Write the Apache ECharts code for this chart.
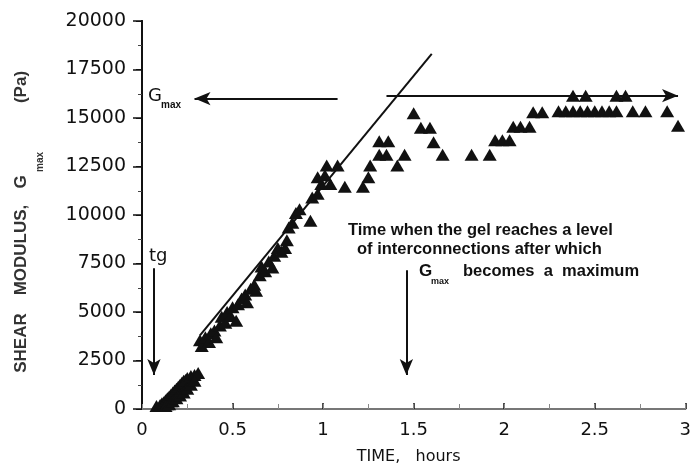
<!DOCTYPE html>
<html>
<head>
<meta charset="utf-8">
<script src="https://cdn.jsdelivr.net/npm/echarts@6/dist/echarts.min.js"></script>
<style>
  html, body { margin: 0; padding: 0; background: #fff; }
  #chart { width: 694px; height: 470px; }
</style>
</head>
<body>
<div id="chart"></div>
<script>
// Shear modulus G (Pa) versus curing time (hours)

// Gel onset region, just after tg
const onsetPoints = [
  [0.08, 150], [0.10, 200], [0.11, 300], [0.12, 150], [0.12, 350], [0.13, 450],
  [0.14, 250], [0.14, 550], [0.15, 650], [0.16, 400], [0.16, 750], [0.17, 850],
  [0.18, 600], [0.18, 950], [0.19, 1050], [0.20, 800], [0.20, 1150], [0.21, 1250],
  [0.22, 1000], [0.22, 1350], [0.23, 1450], [0.24, 1150], [0.24, 1500],
  [0.25, 1600], [0.26, 1300], [0.27, 1700], [0.29, 1750], [0.31, 1850],
  [0.13, 150], [0.15, 250], [0.17, 400], [0.19, 550], [0.21, 700],
  [0.23, 850], [0.25, 1050], [0.27, 1250], [0.29, 1450]
];

// Linear growth of the network
const growthPoints = [
  [0.32, 3550], [0.33, 3250], [0.35, 3700], [0.37, 3450], [0.38, 3900],
  [0.40, 4050], [0.41, 3700], [0.43, 4300], [0.44, 4750], [0.46, 4450],
  [0.47, 5000], [0.49, 4800], [0.50, 5250], [0.52, 4550], [0.53, 5400],
  [0.55, 5700], [0.57, 5900], [0.58, 5500], [0.60, 6200], [0.62, 6400],
  [0.63, 6100], [0.65, 6900], [0.66, 7350], [0.68, 7100], [0.70, 7600],
  [0.72, 7300], [0.73, 7900], [0.75, 8300], [0.77, 8100], [0.79, 8300],
  [0.80, 8700], [0.81, 9350], [0.83, 9600], [0.85, 10100], [0.87, 10300],
  [0.93, 9700], [0.94, 10900], [0.97, 11100], [0.97, 11950], [0.99, 11600],
  [1.01, 12050], [1.02, 12550], [1.04, 11600], [1.08, 12550], [1.12, 11450]
];

// Approach to the plateau value
const plateauPoints = [
  [1.22, 11450], [1.25, 11950], [1.26, 12550], [1.31, 13100], [1.35, 13100],
  [1.31, 13800], [1.36, 13800], [1.41, 12550], [1.45, 13100], [1.50, 15250],
  [1.54, 14500], [1.59, 14500], [1.61, 13750], [1.66, 13100], [1.82, 13100],
  [1.92, 13100], [1.95, 13850], [1.99, 13850], [2.03, 13850], [2.05, 14550],
  [2.09, 14550], [2.14, 14550], [2.16, 15300], [2.21, 15300], [2.30, 15350],
  [2.34, 15350], [2.38, 15350], [2.42, 15350], [2.46, 15350], [2.50, 15350],
  [2.54, 15350], [2.58, 15350], [2.62, 15350], [2.38, 16150], [2.45, 16150],
  [2.62, 16150], [2.67, 16150], [2.71, 15350], [2.78, 15350], [2.90, 15350],
  [2.96, 14600]
];

// Straight line through the linear growth region
const fitLine = [[0.32, 3800], [1.60, 18300]];

// Annotation arrows: [start, end] in (hours, Pa)
const gmaxLeftArrow  = [[1.08, 16000], [0.29, 16000]];
const gmaxRightArrow = [[1.35, 16150], [2.96, 16150]];
const tgArrow        = [[0.066, 7250], [0.066, 1750]];
const maxTimeArrow   = [[1.46, 7150], [1.46, 1750]];

const xTicks = { min: 0, max: 3, step: 0.5 };
const yTicks = { min: 0, max: 20000, step: 2500 };

const ink = '#111';
const labelFont = 'DejaVu Sans';

function arrow(pair) {
  return [{ coord: pair[0] }, { coord: pair[1] }];
}

const chart = echarts.init(document.getElementById('chart'));

const triangle = {
  type: 'scatter',
  symbol: 'triangle',
  symbolSize: [14, 12],
  itemStyle: { color: ink, opacity: 1 },
  silent: true,
  animation: false
};

chart.setOption({
  animation: false,
  backgroundColor: '#fff',
  grid: { left: 142, right: 3, top: 21, bottom: 53 },
  xAxis: [
    {
      type: 'value', min: xTicks.min, max: xTicks.max, interval: xTicks.step,
      position: 'bottom',
      axisLine: { lineStyle: { color: ink, width: 2 } },
      axisTick: { inside: true, length: 6, lineStyle: { color: ink, width: 1.5 } },
      minorTick: { show: true, splitNumber: 2, length: 4, lineStyle: { color: '#444', width: 1 } },
      splitLine: { show: false },
      axisLabel: { color: ink, fontFamily: labelFont, fontSize: 18, margin: 12 },
      name: 'TIME,   hours', nameLocation: 'middle', nameGap: 40,
      nameTextStyle: { color: ink, fontFamily: labelFont, fontSize: 16, padding: [0, 0, 0, -10] }
    },
    {
      type: 'value', min: xTicks.min, max: xTicks.max, interval: 0.25,
      position: 'top',
      axisLine: { lineStyle: { color: '#777', width: 2 } },
      axisTick: { inside: false, length: 5, lineStyle: { color: '#888', width: 1 } },
      axisLabel: { show: false },
      splitLine: { show: false }
    }
  ],
  yAxis: [
    {
      type: 'value', min: yTicks.min, max: yTicks.max, interval: yTicks.step,
      position: 'left',
      axisLine: { lineStyle: { color: ink, width: 2 } },
      axisTick: { inside: false, length: 9, lineStyle: { color: ink, width: 1.5 } },
      minorTick: { show: true, splitNumber: 2, length: 4, lineStyle: { color: '#444', width: 1 } },
      splitLine: { show: false },
      axisLabel: {
        color: ink, fontFamily: labelFont, fontSize: 19, margin: 16,
        formatter: function (v) { return String(v); }
      }
    },
    {
      type: 'value', min: yTicks.min, max: yTicks.max, interval: yTicks.step,
      position: 'right',
      axisLine: { lineStyle: { color: ink, width: 2 } },
      axisTick: { inside: true, length: 6, lineStyle: { color: ink, width: 1 } },
      axisLabel: { show: false },
      splitLine: { show: false }
    }
  ],
  series: [
    Object.assign({ name: 'onset', data: onsetPoints }, triangle),
    Object.assign({ name: 'growth', data: growthPoints }, triangle),
    Object.assign({ name: 'plateau', data: plateauPoints }, triangle),
    {
      name: 'fit', type: 'line', data: fitLine, symbol: 'none', silent: true,
      lineStyle: { color: ink, width: 2 },
      markLine: {
        silent: true,
        symbol: ['none', 'arrow'],
        symbolSize: [10, 16],
        label: { show: false },
        lineStyle: { color: ink, width: 2, type: 'solid' },
        data: [arrow(gmaxLeftArrow), arrow(gmaxRightArrow), arrow(tgArrow), arrow(maxTimeArrow)]
      }
    }
  ],
  graphic: [
    // Y axis title, reading bottom to top
    { type: 'text', x: 21, y: 343, rotation: Math.PI / 2,
      style: { text: 'SHEAR', fill: '#333', font: 'bold 17px "Liberation Sans"', align: 'center', verticalAlign: 'middle' } },
    { type: 'text', x: 21, y: 250, rotation: Math.PI / 2,
      style: { text: 'MODULUS,', fill: '#333', font: 'bold 17px "Liberation Sans"', align: 'center', verticalAlign: 'middle' } },
    { type: 'text', x: 21, y: 182, rotation: Math.PI / 2,
      style: { text: 'G', fill: '#333', font: 'bold 17px "Liberation Sans"', align: 'center', verticalAlign: 'middle' } },
    { type: 'text', x: 40, y: 162, rotation: Math.PI / 2,
      style: { text: 'max', fill: '#333', font: 'bold 10px "Liberation Sans"', align: 'center', verticalAlign: 'middle' } },
    { type: 'text', x: 21, y: 87, rotation: Math.PI / 2,
      style: { text: '(Pa)', fill: '#333', font: 'bold 17px "Liberation Sans"', align: 'center', verticalAlign: 'middle' } },

    // G max label by the left arrow
    { type: 'text', x: 148, y: 96,
      style: { text: 'G', fill: ink, font: '18px "DejaVu Sans"', align: 'left', verticalAlign: 'middle' } },
    { type: 'text', x: 161, y: 105,
      style: { text: 'max', fill: ink, font: 'bold 10px "Liberation Sans"', align: 'left', verticalAlign: 'middle' } },

    // tg label
    { type: 'text', x: 149, y: 256,
      style: { text: 'tg', fill: ink, font: '18px "DejaVu Sans"', align: 'left', verticalAlign: 'middle' } },

    // Explanation next to the maximum arrow
    { type: 'text', x: 348, y: 230,
      style: { text: 'Time when the gel reaches a level', fill: ink, font: 'bold 16.5px "Liberation Sans"', align: 'left', verticalAlign: 'middle' } },
    { type: 'text', x: 357, y: 249,
      style: { text: 'of interconnections after which', fill: ink, font: 'bold 16.5px "Liberation Sans"', align: 'left', verticalAlign: 'middle' } },
    { type: 'text', x: 419, y: 271,
      style: { text: 'G', fill: ink, font: 'bold 17px "Liberation Sans"', align: 'left', verticalAlign: 'middle' } },
    { type: 'text', x: 431, y: 282,
      style: { text: 'max', fill: ink, font: 'bold 9px "Liberation Sans"', align: 'left', verticalAlign: 'middle' } },
    { type: 'text', x: 463, y: 271,
      style: { text: 'becomes  a  maximum', fill: ink, font: 'bold 16.5px "Liberation Sans"', align: 'left', verticalAlign: 'middle' } }
  ]
});
</script>
</body>
</html>
